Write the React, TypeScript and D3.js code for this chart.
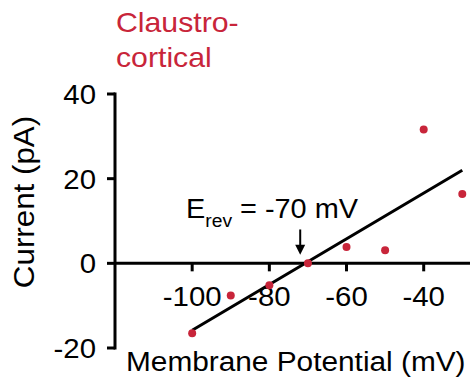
import * as d3 from 'd3'
import type { ReactNode } from 'react'

const WIDTH = 472
const HEIGHT = 381
const RED = '#c8253a'
const FONT = '"Liberation Sans", Arial, sans-serif'
const STRETCH = 1.05

// data
const voltages = [-100, -90, -80, -70, -60, -50, -40, -30]
const currents = [-16.5, -7.6, -5.2, 0, 3.85, 3.1, 31.6, 16.4]
const fitX = [-100, -30]
const fitY = [-15.8, 22]
const xTicks = [-100, -80, -60, -40]
const yTicks = [-20, 0, 20, 40]
const erevX = -72
const arrowY = [8, 2]

type LabelProps = {
  x: number
  y: number
  size: number
  anchor?: 'start' | 'middle' | 'end'
  rotate?: number
  sx?: number
  fill?: string
  children: ReactNode
}

// the figure's type runs a little wider than Liberation Sans
const Label = ({ x, y, size, anchor = 'start', rotate = 0, sx = STRETCH, fill = 'black', children }: LabelProps) => (
  <text
    transform={`translate(${x},${y}) rotate(${rotate}) scale(${sx},1)`}
    fontSize={size}
    textAnchor={anchor}
    fill={fill}
  >
    {children}
  </text>
)

export default function App() {
  const x = d3.scaleLinear().domain([-120, -28]).range([115, 470])
  const y = d3.scaleLinear().domain([-20, 40]).range([348, 94])
  const y0 = y(0)

  const fitLine = d3
    .line<number>()
    .x((d) => x(d))
    .y((d, i) => y(fitY[i]))

  const ax = x(erevX)
  const ay1 = y(arrowY[0])
  const ay2 = y(arrowY[1])

  return (
    <svg
      width={WIDTH}
      height={HEIGHT}
      style={{ position: 'absolute', left: 0, top: 0, background: 'white' }}
      fontFamily={FONT}
    >
      {/* title */}
      <Label x={116} y={32} size={28} sx={1.08} fill={RED}>
        Claustro-
      </Label>
      <Label x={116} y={67} size={28} sx={1.08} fill={RED}>
        cortical
      </Label>

      {/* y axis */}
      <line x1={115} x2={115} y1={y(40) - 1.5} y2={y(-20) + 1.5} stroke="black" strokeWidth={3} />
      {yTicks.map((t) => (
        <g key={t}>
          <line x1={107} x2={115} y1={y(t)} y2={y(t)} stroke="black" strokeWidth={3} />
          <Label x={96} y={y(t) + 10} size={28} anchor="end">
            {t}
          </Label>
        </g>
      ))}
      <Label x={33.5} y={202} size={29} anchor="middle" rotate={-90} sx={1.08}>
        Current (pA)
      </Label>

      {/* x axis at zero */}
      <line x1={115} x2={470} y1={y0} y2={y0} stroke="black" strokeWidth={3} />
      {xTicks.map((t) => (
        <g key={t}>
          <line x1={x(t)} x2={x(t)} y1={y0} y2={y0 + 8} stroke="black" strokeWidth={3} />
          <Label x={x(t)} y={306} size={28} anchor="middle">
            {t}
          </Label>
        </g>
      ))}
      <Label x={126} y={371} size={28} sx={1.065}>
        Membrane Potential (mV)
      </Label>

      {/* fit */}
      <path d={fitLine(fitX) ?? ''} stroke="black" strokeWidth={3} fill="none" />

      {/* points */}
      {voltages.map((v, i) => (
        <circle key={v} cx={x(v)} cy={y(currents[i])} r={4} fill={RED} />
      ))}

      {/* reversal potential */}
      <Label x={186} y={218} size={27} sx={1.07}>
        E
        <tspan fontSize={18} dy={9}>
          rev
        </tspan>
        <tspan dy={-9}> = -70 mV</tspan>
      </Label>
      <line x1={ax} x2={ax} y1={ay1} y2={ay2 - 8} stroke="black" strokeWidth={2} />
      <path d={`M${ax - 5},${ay2 - 10} L${ax + 5},${ay2 - 10} L${ax},${ay2} Z`} fill="black" />
    </svg>
  )
}
